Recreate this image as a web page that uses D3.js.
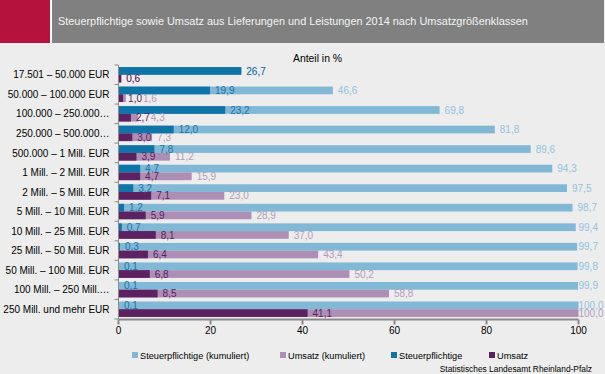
<!DOCTYPE html>
<html><head><meta charset="utf-8">
<script src="https://cdn.jsdelivr.net/npm/d3@7"></script>
<style>
html,body{margin:0;padding:0;background:#ecedec;}
svg{display:block;font-family:"Liberation Sans",Arial,sans-serif;}
</style></head>
<body>
<svg id="c" width="605" height="374"></svg>
<script>
const title = "Steuerpflichtige sowie Umsatz aus Lieferungen und Leistungen 2014 nach Umsatzgrößenklassen";
const categories = ["17.501 – 50.000 EUR","50.000 – 100.000 EUR","100.000 – 250.000…","250.000 – 500.000…","500.000 – 1 Mill. EUR","1 Mill. – 2 Mill. EUR","2 Mill. – 5 Mill. EUR","5 Mill. – 10 Mill. EUR","10 Mill. – 25 Mill. EUR","25 Mill. – 50 Mill. EUR","50 Mill. – 100 Mill. EUR","100 Mill. – 250 Mill.…","250 Mill. und mehr EUR"];
const steuerKum = [26.7,46.6,69.8,81.8,89.6,94.3,97.5,98.7,99.4,99.7,99.8,99.9,100.0];
const umsatzKum = [0.6,1.6,4.3,7.3,11.2,15.9,23.0,28.9,37.0,43.4,50.2,58.8,100.0];
const steuer = [26.7,19.9,23.2,12.0,7.8,4.7,3.2,1.2,0.7,0.3,0.1,0.1,0.1];
const umsatz = [0.6,1.0,2.7,3.0,3.9,4.7,7.1,5.9,8.1,6.4,6.8,8.5,41.1];
const xTicks = [0,20,40,60,80,100];
const legendLabels = ["Steuerpflichtige (kumuliert)","Umsatz (kumuliert)","Steuerpflichtige","Umsatz"];
const source = "Statistisches Landesamt Rheinland-Pfalz";
const axisTitle = "Anteil in %";

const colSK = "#80b8d6", colUK = "#ad8eb4", colS = "#0f74a8", colU = "#5b2160";
const lblSK = "#90c3de", lblUK = "#b49bbb", lblS = "#1a74a8", lblU = "#5b2160";

const svg = d3.select("#c");
// header
svg.append("rect").attr("x",0).attr("y",0).attr("width",50).attr("height",43).attr("fill","#b5123e");
svg.append("rect").attr("x",50).attr("y",0).attr("width",2).attr("height",43).attr("fill","#ffffff");
svg.append("rect").attr("x",52).attr("y",0).attr("width",552).attr("height",43).attr("fill","#808080");
svg.append("text").attr("x",58).attr("y",25).attr("fill","#f4f4f4").attr("font-size","10.9px").text(title);

const x = d3.scaleLinear().domain([0,100]).range([118.5,578.5]);
const y = d3.scaleBand().domain(categories).range([65,319]).paddingInner(0.21).paddingOuter(0.105);
const sub = d3.scaleBand().domain(["S","U"]).range([0,y.bandwidth()]);

svg.append("text").attr("x",317.5).attr("y",62).attr("text-anchor","middle").attr("font-size","10.4px").attr("fill","#000").text(axisTitle);

const g = svg.append("g");
const rows = categories.map((c,i)=>({c,i}));

function bars(arr, key, color){
  g.selectAll(null).data(rows).enter().append("rect")
    .attr("x",x(0)).attr("y",d=>y(d.c)+sub(key))
    .attr("width",d=>x(arr[d.i])-x(0)).attr("height",sub.bandwidth())
    .attr("fill",color);
}
bars(steuerKum,"S",colSK);
bars(umsatzKum,"U",colUK);
bars(steuer,"S",colS);
bars(umsatz,"U",colU);

const fmt = v => d3.format(".1f")(v).replace(".",",");
// single-value labels first (to know their extents), then cumulative labels pushed right if they would collide
function labelPair(single, cum, key, cSingle, cCum){
  rows.forEach(d=>{
    const yy = y(d.c)+sub(key)+sub.bandwidth()/2;
    const xs = Math.min(x(single[d.i])+5, x(100));
    let xc = Math.min(x(cum[d.i])+5, x(100));
    const tmp = g.append("text").attr("x",xs).attr("y",yy).attr("dy","0.36em")
      .attr("font-size","10px").attr("fill",cSingle).text(fmt(single[d.i]));
    const endS = xs + tmp.node().getComputedTextLength();
    if (cum[d.i] !== single[d.i] && xc < endS + 1) xc = endS + 1;
    g.insert("text", () => tmp.node()).attr("x",xc).attr("y",yy).attr("dy","0.36em")
      .attr("font-size","10px").attr("fill",cCum).text(fmt(cum[d.i]));
  });
}
labelPair(steuer, steuerKum, "S", lblS, lblSK);
labelPair(umsatz, umsatzKum, "U", lblU, lblUK);

// y axis
const axisCol = "#8a8a8a";
const yAxis = svg.append("g").attr("transform",`translate(${x(0)},0)`);
yAxis.append("line").attr("x1",0).attr("x2",0).attr("y1",y.range()[0]).attr("y2",y.range()[1]).attr("stroke",axisCol).attr("stroke-width",1);
const bounds = categories.map((c,i)=>y.range()[0]+i*y.step()).concat([y.range()[1]]);
yAxis.selectAll(null).data(bounds).enter().append("line")
  .attr("x1",-4).attr("x2",0).attr("y1",d=>d).attr("y2",d=>d).attr("stroke",axisCol);
yAxis.selectAll(null).data(categories).enter().append("text")
  .attr("x",-9).attr("y",d=>y(d)+y.bandwidth()/2).attr("dy","0.36em")
  .attr("text-anchor","end").attr("font-size","10px").attr("fill","#000").text(d=>d);

// x axis
const xAxis = svg.append("g").attr("transform","translate(0,319.5)");
xAxis.append("line").attr("x1",x(0)).attr("x2",x(100)).attr("y1",0).attr("y2",0).attr("stroke",axisCol).attr("stroke-width",2);
xAxis.selectAll(null).data(xTicks).enter().append("line")
  .attr("x1",d=>x(d)).attr("x2",d=>x(d)).attr("y1",0).attr("y2",5).attr("stroke",axisCol).attr("stroke-width",2);
xAxis.selectAll(null).data(xTicks).enter().append("text")
  .attr("x",d=>x(d)).attr("y",14).attr("text-anchor","middle").attr("font-size","10px").attr("fill","#000").text(d=>d);

// legend
const legX = [132,280,391,489];
const legCol = [colSK,colUK,colS,colU];
const leg = svg.append("g");
legendLabels.forEach((t,i)=>{
  leg.append("rect").attr("x",legX[i]).attr("y",352).attr("width",6).attr("height",6).attr("fill",legCol[i]);
  leg.append("text").attr("x",legX[i]+8).attr("y",358.5).attr("font-size","9.2px").attr("fill","#000").text(t);
});
svg.append("text").attr("x",592).attr("y",372).attr("text-anchor","end").attr("font-size","8.4px").attr("fill","#000").text(source);
</script>
</body></html>
